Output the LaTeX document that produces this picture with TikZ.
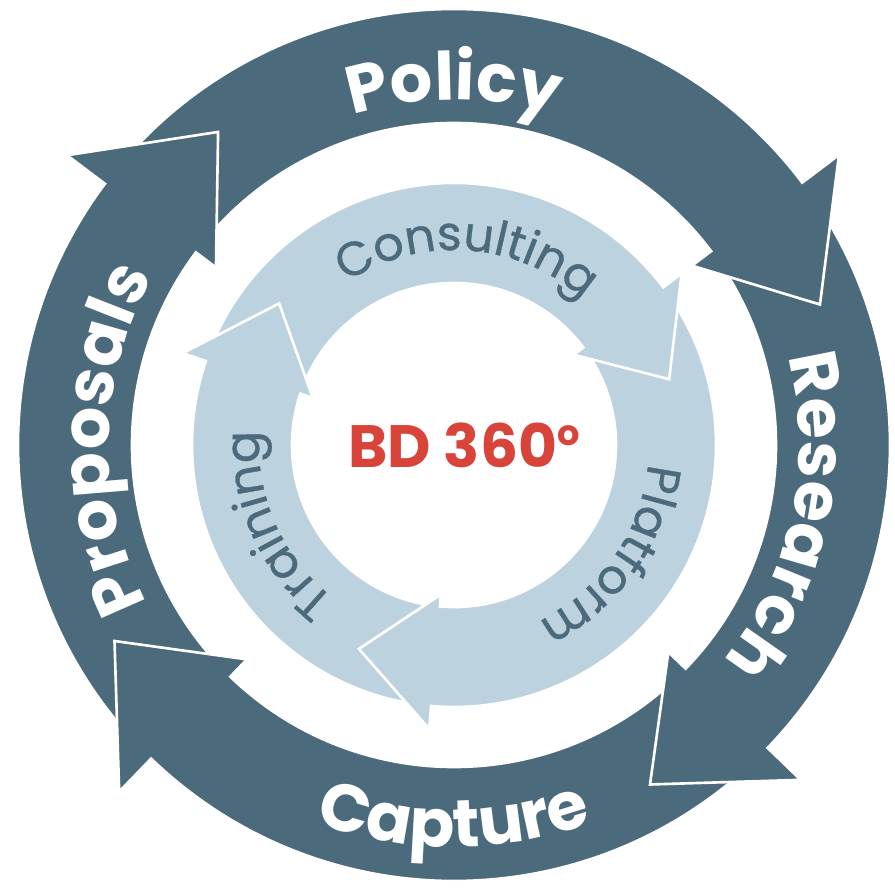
\documentclass[tikz,border=0pt]{standalone}
\usepackage{fontspec}
\setmainfont{Poppins}
\newfontfamily\innerfam[FakeBold=0.8]{Poppins}
\usetikzlibrary{decorations.text}
\definecolor{ringdark}{RGB}{75,106,124}
\definecolor{ringlight}{RGB}{188,211,223}
\definecolor{hubred}{RGB}{217,68,58}
\newcommand{\outerfont}{\bfseries\fontsize{38}{40}\selectfont}
\newcommand{\innerfont}{\innerfam\fontsize{27}{30}\selectfont}

\tikzset{
  outerarrow/.style={fill=ringdark, draw=white, line width=1.5pt},
  innerarrow/.style={fill=ringlight, draw=white, line width=1.5pt},
  outerlabel/.style={decorate, decoration={text along path, text align=center,
      text color=white, text={|\outerfont|#1}}},
  innerlabel/.style={decorate, decoration={text along path, text align=center,
      text color=ringdark, text={|\innerfont|#1}}},
}

\begin{document}
\begin{tikzpicture}
    \useasboundingbox (-9.08,-8.9) rectangle (8.82,8.9);

    % Outer ring: Proposals, Capture, Research, Policy (each head sits on the next tail)
    \foreach \s/\b in {-138/-217, -48/-134, 33/-44, 139/37} {
        \filldraw[outerarrow] (\s:8.72) arc[start angle=\s, end angle=\b, radius=8.72]
            -- (\b:9.64) -- ({\b-16}:7.84) -- (\b:5.96)
            -- (\b:6.44) arc[start angle=\b, end angle=\s, radius=6.44] -- cycle;
    }
    % Proposals head again, over the Policy tail
    \fill[ringdark] (-217:9.64) -- (-233:7.84) -- (-217:5.96) -- cycle;
    \draw[white, line width=1.5pt] (-217:9.64) -- (-233:7.84) -- (-217:5.96);

    % Inner ring: Training, Platform, Consulting
    \foreach \s/\b in {-99/-199, 33/-95, 157/37} {
        \filldraw[innerarrow] (\s:5.24) arc[start angle=\s, end angle=\b, radius=5.24]
            -- (\b:5.7) -- ({\b-20}:4.5) -- (\b:3.0)
            -- (\b:3.24) arc[start angle=\b, end angle=\s, radius=3.24] -- cycle;
    }
    % Training head again, over the Consulting tail
    \fill[ringlight] (-199:5.7) -- (-219:4.5) -- (-199:3.0) -- cycle;
    \draw[white, line width=1.5pt] (-199:5.7) -- (-219:4.5) -- (-199:3.0);

    % Labels along the rings
    \path[outerlabel=Policy] (170:6.9) arc[start angle=170, end angle=10, radius=6.9];
    \path[outerlabel=Research] (68:6.9) arc[start angle=68, end angle=-92, radius=6.9];
    \path[outerlabel=Proposals] (259:6.9) arc[start angle=259, end angle=99, radius=6.9];
    \path[outerlabel=Capture] (190:8.04) arc[start angle=190, end angle=350, radius=8.04];

    \path[innerlabel=Consulting] (166:3.9) arc[start angle=166, end angle=6, radius=3.9];
    \path[innerlabel=Platform] (45:3.9) arc[start angle=45, end angle=-115, radius=3.9];
    \path[innerlabel=Training] (284:3.9) arc[start angle=284, end angle=124, radius=3.9];

    % Centre
    \node[text=hubred, font=\bfseries\fontsize{34}{36}\selectfont] (hub) at (0.2,0)
        {BD 360\raisebox{12.5pt}{\fontsize{20}{20}\selectfont o}};
\end{tikzpicture}
\end{document}
